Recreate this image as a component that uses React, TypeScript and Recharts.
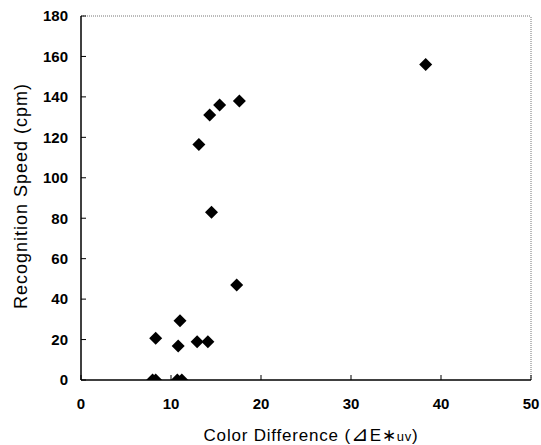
import React from 'react';
import {
  ScatterChart,
  Scatter,
  XAxis,
  YAxis,
  ReferenceLine,
  Label,
} from 'recharts';

// Color difference (ΔE*uv) vs recognition speed (cpm)
const colorDiff = [7.95, 8.3, 10.7, 11.2, 8.3, 10.8, 11.0, 12.9, 14.1, 17.3, 14.5, 13.1, 14.3, 15.4, 17.6, 38.3];
const speed = [0, 0, 0, 0, 20.6, 16.8, 29.3, 18.9, 18.9, 47, 83, 116.5, 131, 136, 138, 156];

const xTicks = [0, 10, 20, 30, 40, 50];
const yTicks = [0, 20, 40, 60, 80, 100, 120, 140, 160, 180];

const points = colorDiff.map((x, i) => ({ x, y: speed[i] }));

const FONT = '"Liberation Sans", Arial, sans-serif';

// filled black diamond marker
const Diamond = (props: any) => {
  const { cx, cy } = props;
  const r = 6.5;
  return (
    <polygon
      points={`${cx},${cy - r} ${cx + r},${cy} ${cx},${cy + r} ${cx - r},${cy}`}
      fill="#000"
    />
  );
};

const YTitle = (props: any) => {
  const { viewBox } = props;
  const cx = viewBox.x + 21;
  const cy = viewBox.y + viewBox.height / 2 - 2;
  return (
    <text
      x={cx}
      y={cy}
      transform={`rotate(-90, ${cx}, ${cy})`}
      textAnchor="middle"
      dominantBaseline="central"
      style={{ fontFamily: FONT, fontSize: 18, letterSpacing: 1, fill: '#000' }}
    >
      Recognition Speed (cpm)
    </text>
  );
};

const XTitle = (props: any) => {
  const { viewBox } = props;
  const cx = viewBox.x + viewBox.width / 2 + 5;
  return (
    <text
      x={cx}
      y={viewBox.y + 61}
      textAnchor="middle"
      style={{ fontFamily: FONT, fontSize: 17, letterSpacing: 0.8, fill: '#000' }}
    >
      Color Difference (<tspan fontSize={21}>⊿</tspan>E<tspan>∗</tspan>
      <tspan fontSize={13}>uv</tspan>)
    </text>
  );
};

const tickStyle = { fontFamily: FONT, fontSize: 15, fontWeight: 700, fill: '#000' };

export default function App() {
  return (
    <div style={{ position: 'absolute', left: 0, top: 0, background: '#fff' }}>
      <ScatterChart
        width={541}
        height={445}
        margin={{ top: 16, right: 10, bottom: 0, left: 0 }}
      >
        <XAxis
          type="number"
          dataKey="x"
          domain={[0, 50]}
          ticks={xTicks}
          height={65}
          axisLine={{ stroke: '#000', strokeWidth: 1.5 }}
          tickLine={{ stroke: '#000' }}
          tickSize={-5}
          tickMargin={23}
          tick={tickStyle}
          allowDataOverflow
        >
          <Label content={<XTitle />} />
        </XAxis>
        <YAxis
          type="number"
          dataKey="y"
          domain={[0, 180]}
          ticks={yTicks}
          width={81}
          axisLine={{ stroke: '#000', strokeWidth: 1.5 }}
          tickLine={{ stroke: '#000' }}
          tickSize={-5}
          tickMargin={18}
          tick={tickStyle}
          allowDataOverflow
        >
          <Label content={<YTitle />} />
        </YAxis>
        <ReferenceLine y={180} stroke="#777" strokeDasharray="1 1" />
        <ReferenceLine x={50} stroke="#777" strokeDasharray="1 1" />
        <Scatter data={points} shape={<Diamond />} isAnimationActive={false} />
      </ScatterChart>
    </div>
  );
}
